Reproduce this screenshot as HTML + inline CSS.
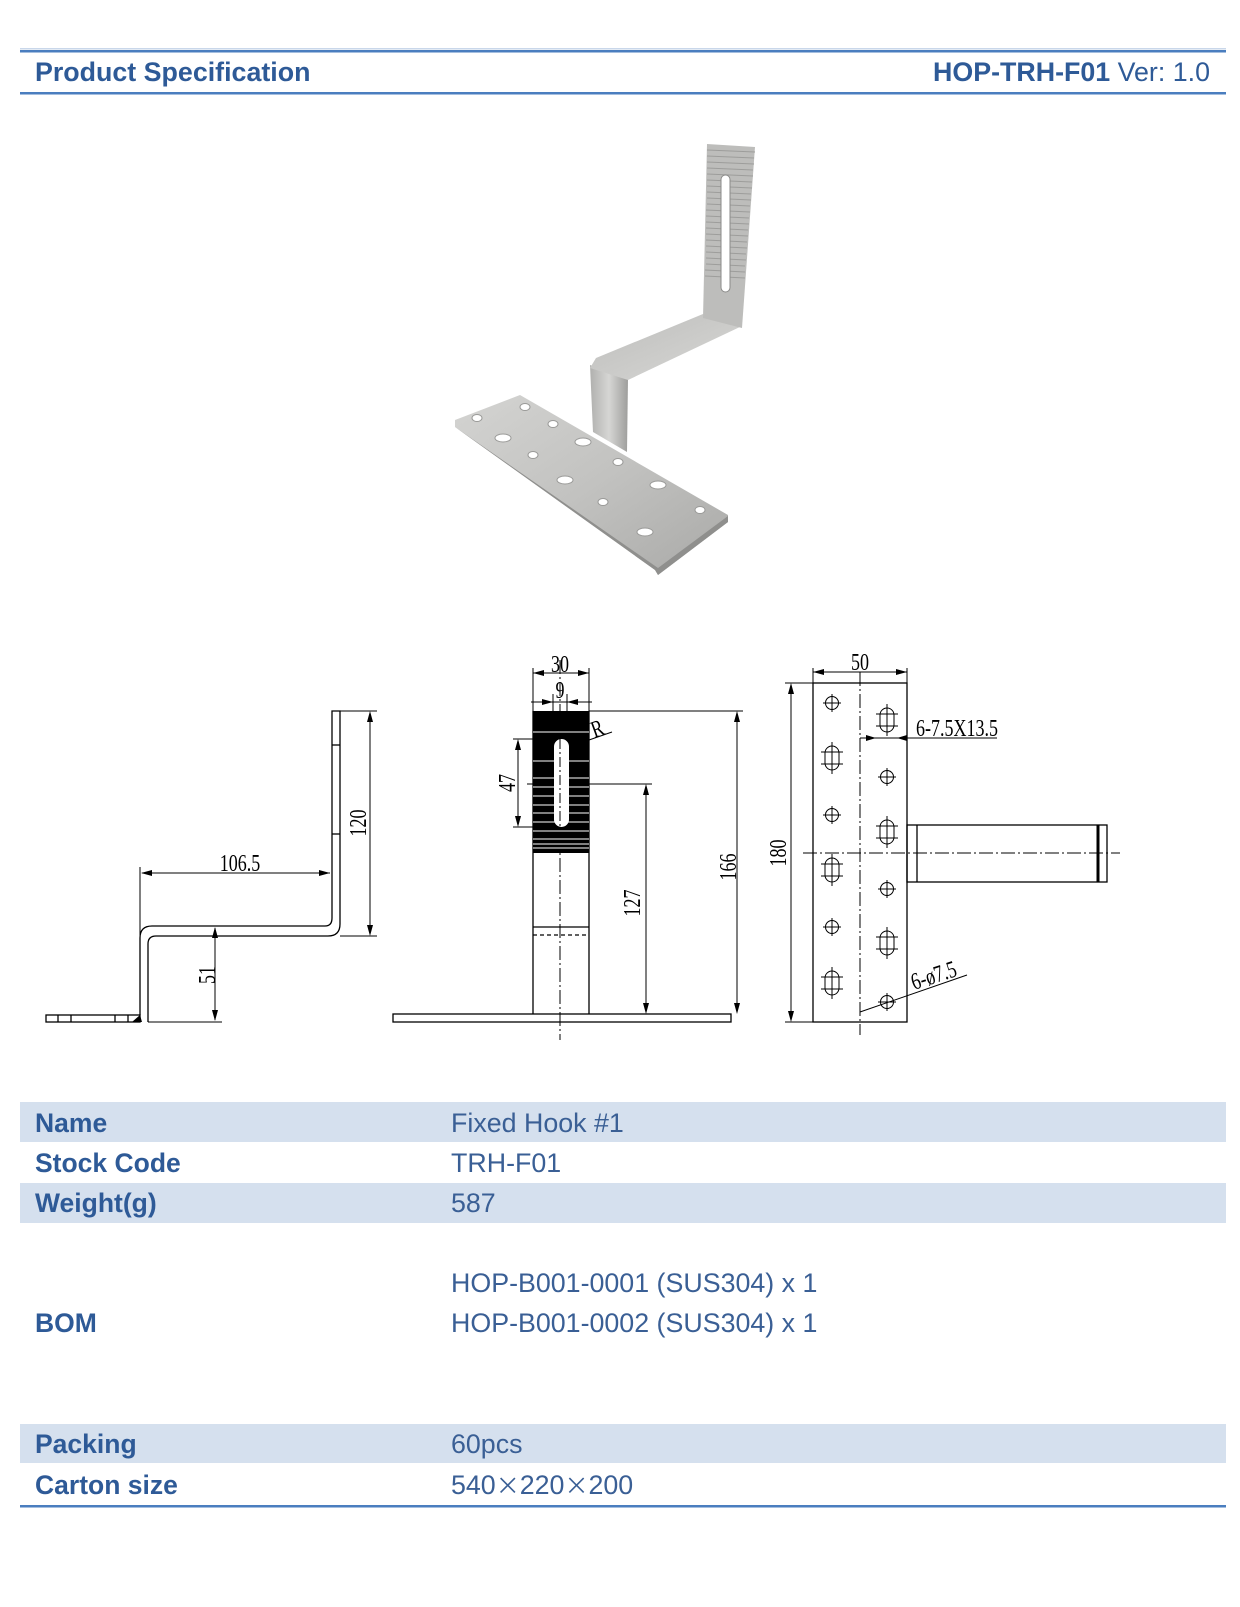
<!DOCTYPE html>
<html><head><meta charset="utf-8"><style>
html,body{margin:0;padding:0;background:#fff;}
body{width:1240px;height:1607px;position:relative;overflow:hidden;font-family:"Liberation Sans",Arial,sans-serif;}
svg{position:absolute;left:0;top:0;}
.t{font-family:"Liberation Serif",serif;font-size:24px;fill:#000;}
</style></head><body>
<svg width="1240" height="1607" viewBox="0 0 1240 1607" xmlns="http://www.w3.org/2000/svg">
<defs>
<linearGradient id="g1" x1="0" y1="0" x2="1" y2="1"><stop offset="0" stop-color="#d4d4d2"/><stop offset="0.5" stop-color="#c2c2c0"/><stop offset="1" stop-color="#a9a9a7"/></linearGradient>
<linearGradient id="g2" x1="0" y1="0" x2="1" y2="0"><stop offset="0" stop-color="#b0b0ae"/><stop offset="0.5" stop-color="#d6d6d4"/><stop offset="1" stop-color="#9e9e9c"/></linearGradient>
<linearGradient id="g3" x1="0" y1="0" x2="1" y2="1"><stop offset="0" stop-color="#bdbdbb"/><stop offset="1" stop-color="#d8d8d6"/></linearGradient>
</defs>
<!-- header -->
<rect x="20" y="48" width="1206" height="1.5" fill="#c9d7ea"/>
<rect x="20" y="50" width="1206" height="2.5" fill="#4a7ebf"/>
<rect x="20" y="92" width="1206" height="2.5" fill="#4a7ebf"/>
<text x="35" y="81" font-family="Liberation Sans,Arial,sans-serif" font-weight="bold" font-size="26.8" fill="#2e5a97">Product Specification</text>
<text x="1210" y="81" text-anchor="end" font-family="Liberation Sans,Arial,sans-serif" font-size="26.8" fill="#2e5a97"><tspan font-weight="bold">HOP-TRH-F01</tspan> Ver: 1.0</text>

<!-- photo -->
<polygon points="455,420 520,395 728,515 728,522 658,575 655,570 455,427" fill="url(#g1)"/>
<polygon points="455,427 655,570 658,575 728,522 728,516 658,568" fill="#8f8f8d"/>
<g fill="#ffffff" stroke="#9a9a98" stroke-width="1">
<ellipse cx="477" cy="418" rx="5" ry="3.5"/><ellipse cx="525" cy="407" rx="5" ry="3.5"/>
<ellipse cx="503" cy="438" rx="8" ry="4"/><ellipse cx="553" cy="424" rx="5" ry="3.5"/>
<ellipse cx="583" cy="442" rx="8" ry="4"/><ellipse cx="533" cy="455" rx="5" ry="3.5"/>
<ellipse cx="618" cy="462" rx="5" ry="3.5"/><ellipse cx="565" cy="480" rx="8" ry="4"/>
<ellipse cx="658" cy="485" rx="8" ry="4"/><ellipse cx="603" cy="502" rx="5" ry="3.5"/>
<ellipse cx="700" cy="510" rx="5" ry="3.5"/><ellipse cx="645" cy="532" rx="8" ry="4"/>
</g>
<polygon points="590,365 628,378 627,452 593,432" fill="url(#g2)"/>
<polygon points="596,358 703,314 742,326 628,380 590,368" fill="url(#g3)"/>
<polygon points="707,144 755,147 742,328 703,318" fill="#bdbdbb"/>
<g stroke="#9d9d9b" stroke-width="1">
<line x1="707" y1="150" x2="755" y2="152"/><line x1="707" y1="156" x2="754" y2="158"/><line x1="707" y1="162" x2="754" y2="164"/><line x1="707" y1="168" x2="753" y2="170"/><line x1="707" y1="174" x2="753" y2="176"/><line x1="707" y1="180" x2="752" y2="182"/><line x1="707" y1="186" x2="752" y2="188"/><line x1="707" y1="192" x2="751" y2="194"/><line x1="707" y1="198" x2="751" y2="200"/><line x1="707" y1="204" x2="750" y2="206"/><line x1="706" y1="210" x2="750" y2="212"/><line x1="706" y1="216" x2="749" y2="218"/><line x1="706" y1="222" x2="749" y2="224"/><line x1="706" y1="228" x2="748" y2="230"/><line x1="706" y1="234" x2="748" y2="236"/><line x1="706" y1="240" x2="747" y2="242"/><line x1="706" y1="246" x2="747" y2="248"/><line x1="706" y1="252" x2="746" y2="254"/><line x1="706" y1="258" x2="746" y2="260"/><line x1="706" y1="264" x2="745" y2="266"/><line x1="705" y1="270" x2="745" y2="272"/><line x1="705" y1="276" x2="745" y2="278"/>
</g>
<rect x="721" y="175" width="9" height="117" rx="4.5" fill="#fff" stroke="#8a8a88"/>

<!-- left view -->
<g fill="none" stroke="#000" stroke-width="1.3">
<rect x="46" y="1015" width="94" height="7"/>
<line x1="58" y1="1015" x2="58" y2="1022"/><line x1="71" y1="1015" x2="71" y2="1022"/><line x1="115" y1="1015" x2="115" y2="1022"/><line x1="128" y1="1015" x2="128" y2="1022"/>
<path d="M140,1015 L140,938 Q140,926 152,926 L325,926 Q332,926 332,918 L332,711 L340,711 L340,924 Q340,936 328,936 L156,936 Q148,936 148,944 L148,1022"/>
<line x1="332" y1="745" x2="340" y2="745"/><line x1="332" y1="834" x2="340" y2="834"/>
<line x1="340" y1="711" x2="377" y2="711" stroke-width="1"/><line x1="340" y1="936" x2="377" y2="936" stroke-width="1"/>
<line x1="370" y1="713" x2="370" y2="934" stroke-width="1"/>
<line x1="140" y1="867" x2="140" y2="1010" stroke-width="1"/>
<line x1="142" y1="873" x2="330" y2="873" stroke-width="1"/>
<line x1="148" y1="1022" x2="222" y2="1022" stroke-width="1"/>
<line x1="215" y1="928" x2="215" y2="1020" stroke-width="1"/>
</g>
<g fill="#000">
<polygon points="370,711 367,722 373,722"/><polygon points="370,936 367,925 373,925"/>
<polygon points="141,873 152,870 152,876"/><polygon points="330,873 319,870 319,876"/>
<polygon points="215,927 212,938 218,938"/><polygon points="215,1021 212,1010 218,1010"/>
<polygon points="140,1015 132,1022 142,1022"/>
</g>
<text class="t" transform="translate(240,871) scale(0.75,1)" text-anchor="middle">106.5</text>
<text class="t" transform="translate(366,823) rotate(-90) scale(0.75,1)" text-anchor="middle">120</text>
<text class="t" transform="translate(215,975) rotate(-90) scale(0.75,1)" text-anchor="middle">51</text>

<!-- middle view -->
<g fill="none" stroke="#000" stroke-width="1.3">
<rect x="393" y="1014" width="338" height="8"/>
<line x1="533" y1="711" x2="533" y2="1014"/><line x1="589" y1="711" x2="589" y2="1014"/>
<line x1="533" y1="927" x2="589" y2="927"/>
<line x1="533" y1="935" x2="589" y2="935" stroke-dasharray="4,3"/>
<line x1="560" y1="660" x2="560" y2="1040" stroke-width="1" stroke-dasharray="14,3,2,3"/>
<line x1="589" y1="711" x2="743" y2="711" stroke-width="1"/>
<line x1="737" y1="713" x2="737" y2="1012" stroke-width="1"/>
<line x1="527" y1="784" x2="652" y2="784" stroke-width="1"/>
<line x1="646" y1="786" x2="646" y2="1012" stroke-width="1"/>
<line x1="513" y1="739" x2="533" y2="739" stroke-width="1"/>
<line x1="513" y1="827" x2="533" y2="827" stroke-width="1"/>
<line x1="518" y1="741" x2="518" y2="825" stroke-width="1"/>
<line x1="533" y1="668" x2="533" y2="711" stroke-width="1"/><line x1="589" y1="668" x2="589" y2="711" stroke-width="1"/>
<line x1="533" y1="673" x2="589" y2="673" stroke-width="1"/>
<line x1="531" y1="702" x2="592" y2="702" stroke-width="1"/>
<line x1="553" y1="694" x2="553" y2="711" stroke-width="1"/><line x1="567" y1="694" x2="567" y2="711" stroke-width="1"/>
<line x1="589" y1="740" x2="612" y2="732" stroke-width="1"/>
</g>
<rect x="533" y="711" width="56" height="142" fill="#000"/>
<g stroke="#fff" stroke-width="1">
<line x1="533" y1="732" x2="589" y2="732"/><line x1="533" y1="761" x2="589" y2="761"/><line x1="533" y1="778" x2="589" y2="778"/><line x1="533" y1="787" x2="589" y2="787"/><line x1="533" y1="796" x2="589" y2="796"/><line x1="533" y1="805" x2="589" y2="805"/><line x1="533" y1="813" x2="589" y2="813"/><line x1="533" y1="822" x2="589" y2="822"/><line x1="533" y1="831" x2="589" y2="831"/><line x1="533" y1="839" x2="589" y2="839"/><line x1="533" y1="844" x2="589" y2="844"/><line x1="533" y1="848" x2="589" y2="848"/>
</g>
<rect x="554" y="739" width="15" height="88" rx="7.5" fill="#fff"/>
<line x1="560" y1="739" x2="560" y2="827" stroke="#000" stroke-dasharray="10,3,2,3"/>
<g fill="#000">
<polygon points="737,711 734,722 740,722"/><polygon points="737,1014 734,1003 740,1003"/>
<polygon points="646,784 643,795 649,795"/><polygon points="646,1014 643,1003 649,1003"/>
<polygon points="518,739 515,750 521,750"/><polygon points="518,827 515,816 521,816"/>
<polygon points="533,673 544,670 544,676"/><polygon points="589,673 578,670 578,676"/>
<polygon points="553,702 542,699 542,705"/><polygon points="567,702 578,699 578,705"/>
</g>
<text class="t" transform="translate(560,672) scale(0.75,1)" text-anchor="middle">30</text>
<text class="t" transform="translate(560,698) scale(0.75,1)" text-anchor="middle">9</text>
<text class="t" transform="translate(600,736) rotate(-20) scale(0.75,1)" text-anchor="middle">R</text>
<text class="t" transform="translate(515,783) rotate(-90) scale(0.75,1)" text-anchor="middle">47</text>
<text class="t" transform="translate(640,903) rotate(-90) scale(0.75,1)" text-anchor="middle">127</text>
<text class="t" transform="translate(736,867) rotate(-90) scale(0.75,1)" text-anchor="middle">166</text>

<!-- right view -->
<g fill="none" stroke="#000" stroke-width="1.3">
<rect x="813" y="683" width="94" height="339"/>
<rect x="907" y="825" width="200" height="57"/>
<line x1="917" y1="825" x2="917" y2="882"/>
<line x1="1098" y1="825" x2="1098" y2="882" stroke-width="3"/>
<line x1="803" y1="853" x2="1120" y2="853" stroke-width="1" stroke-dasharray="14,3,2,3"/>
<line x1="860" y1="672" x2="860" y2="1035" stroke-width="1" stroke-dasharray="14,3,2,3"/>
<line x1="813" y1="668" x2="813" y2="683" stroke-width="1"/><line x1="907" y1="668" x2="907" y2="683" stroke-width="1"/>
<line x1="813" y1="672" x2="907" y2="672" stroke-width="1"/>
<line x1="785" y1="683" x2="813" y2="683" stroke-width="1"/><line x1="785" y1="1022" x2="813" y2="1022" stroke-width="1"/>
<line x1="791" y1="685" x2="791" y2="1020" stroke-width="1"/>
<line x1="860" y1="738" x2="997" y2="738" stroke-width="1"/>
<line x1="860" y1="1012" x2="967" y2="975" stroke-width="1"/>
</g>
<g fill="#000">
<polygon points="813,672 824,669 824,675"/><polygon points="907,672 896,669 896,675"/>
<polygon points="791,683 788,694 794,694"/><polygon points="791,1022 788,1011 794,1011"/>
<polygon points="876,738 866,735 866,741"/><polygon points="897,738 907,735 907,741"/>
</g>
<g fill="none" stroke="#000" stroke-width="1">
<circle cx="832" cy="703" r="6.5"/><circle cx="832" cy="815" r="6.5"/><circle cx="832" cy="927" r="6.5"/>
<circle cx="887" cy="777" r="6.5"/><circle cx="887" cy="889" r="6.5"/><circle cx="887" cy="1002" r="6.5"/>
<rect x="825" y="746" width="14" height="24" rx="7"/><rect x="825" y="858" width="14" height="24" rx="7"/><rect x="825" y="971" width="14" height="24" rx="7"/>
<rect x="880" y="708" width="14" height="24" rx="7"/><rect x="880" y="820" width="14" height="24" rx="7"/><rect x="880" y="931" width="14" height="24" rx="7"/>
<path d="M823,703h18M832,694v18M823,815h18M832,806v18M823,927h18M832,918v18M878,777h18M887,768v18M878,889h18M887,880v18M878,1002h18M887,993v18"/>
<path d="M821,752h22M821,764h22M832,742v32M821,864h22M821,876h22M832,854v32M821,977h22M821,989h22M832,967v32"/>
<path d="M876,714h22M876,726h22M887,704v32M876,826h22M876,838h22M887,816v32M876,937h22M876,949h22M887,927v32"/>
</g>
<text class="t" transform="translate(860,670) scale(0.75,1)" text-anchor="middle">50</text>
<text class="t" transform="translate(916,736) scale(0.75,1)">6-7.5X13.5</text>
<text class="t" transform="translate(786,853) rotate(-90) scale(0.75,1)" text-anchor="middle">180</text>
<text class="t" transform="translate(914,990) rotate(-18) scale(0.75,1)">6-ø7.5</text>

<!-- table -->
<rect x="20" y="1102" width="1206" height="40" fill="#d5e0ee"/>
<rect x="20" y="1183" width="1206" height="40" fill="#d5e0ee"/>
<rect x="20" y="1424" width="1206" height="39" fill="#d5e0ee"/>
<rect x="20" y="1505" width="1206" height="2.5" fill="#4a7ebf"/>
<g font-family="Liberation Sans,Arial,sans-serif" font-size="26.5" font-weight="bold" fill="#2e5a97">
<text x="35" y="1132">Name</text><text x="35" y="1172">Stock Code</text><text x="35" y="1212">Weight(g)</text>
<text x="35" y="1332">BOM</text><text x="35" y="1453">Packing</text><text x="35" y="1494">Carton size</text>
</g>
<g font-family="Liberation Sans,Arial,sans-serif" font-size="26.8" fill="#3a5f95">
<text x="451" y="1132">Fixed Hook #1</text><text x="451" y="1172">TRH-F01</text><text x="451" y="1212">587</text>
<text x="451" y="1292">HOP-B001-0001 (SUS304) x 1</text><text x="451" y="1332">HOP-B001-0002 (SUS304) x 1</text>
<text x="451" y="1453">60pcs</text><text x="451" y="1494">540<tspan font-family="Noto Sans CJK SC,sans-serif" font-size="24">×</tspan>220<tspan font-family="Noto Sans CJK SC,sans-serif" font-size="24">×</tspan>200</text>
</g>
</svg>
</body></html>
